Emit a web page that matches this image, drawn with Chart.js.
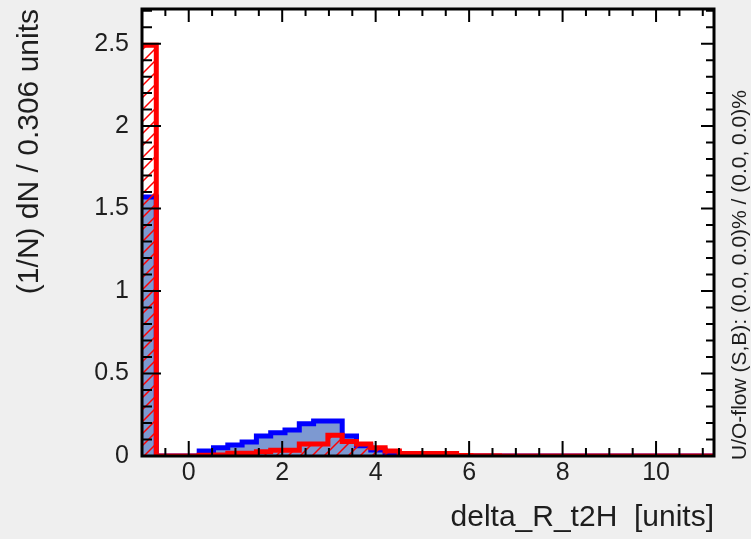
<!DOCTYPE html>
<html>
<head>
<meta charset="utf-8">
<script src="https://cdn.jsdelivr.net/npm/chart.js@4.4.1/dist/chart.umd.min.js"></script>
<style>
  body { margin: 0; background: #efefef; }
  canvas { display: block; }
</style>
</head>
<body>
<canvas id="deltaR" width="751" height="539"></canvas>
<script>
// binning of the histogram
const binStart = -1.0;
const binWidth = 0.306;

// (1/N) dN per bin
const signal = [1.57, 0, 0, 0, 0.03, 0.05, 0.067, 0.085, 0.121, 0.141,
                0.158, 0.195, 0.212, 0.212, 0.121, 0.062, 0.036, 0.014, 0.005, 0.002,
                0, 0, 0, 0, 0, 0, 0, 0, 0, 0,
                0, 0, 0, 0, 0, 0, 0, 0, 0, 0];
const background = [2.49, 0, 0, 0, 0.004, 0.006, 0.016, 0.017, 0.026, 0.035,
                    0.035, 0.072, 0.072, 0.126, 0.088, 0.072, 0.05, 0.031, 0.015, 0.015,
                    0.015, 0.015, 0.003, 0.002, 0.001, 0, 0, 0, 0, 0,
                    0, 0, 0, 0, 0, 0, 0, 0, 0, 0];

const xTitle = 'delta_R_t2H  [units]';
const yTitle = '(1/N) dN / 0.306 units';
const flowText = 'U/O-flow (S,B): (0.0, 0.0)% / (0.0, 0.0)%';
const yMax = 2.71;

const FONT = '"Liberation Sans", Arial, sans-serif';
const TEXT = '#1e1e1e';

// histogram outline: one point per lower bin edge, plus the last upper edge
function stepPoints(values) {
  const pts = values.map((v, i) => ({ x: binStart + i * binWidth, y: v }));
  pts.push({ x: binStart + values.length * binWidth, y: values[values.length - 1] });
  return pts;
}

function hatch(color) {
  const c = document.createElement('canvas');
  c.width = 12; c.height = 12;
  const g = c.getContext('2d');
  g.strokeStyle = color;
  g.lineWidth = 1.5;
  g.beginPath();
  g.moveTo(0, 12); g.lineTo(12, 0);
  g.moveTo(-3, 3); g.lineTo(3, -3);
  g.moveTo(9, 15); g.lineTo(15, 9);
  g.stroke();
  return g.createPattern(c, 'repeat');
}

function isMultiple(v, step) {
  return Math.abs(v / step - Math.round(v / step)) < 1e-6;
}

// ROOT-like frame: grey pad, white frame, ticks pointing inwards on all sides
const frame = {
  id: 'frame',
  beforeDraw(chart) {
    const { ctx, chartArea: a } = chart;
    ctx.save();
    ctx.fillStyle = '#efefef';
    ctx.fillRect(0, 0, chart.width, chart.height);
    ctx.fillStyle = '#ffffff';
    ctx.fillRect(a.left, a.top, a.right - a.left, a.bottom - a.top);
    ctx.restore();
  },
  afterDraw(chart) {
    const { ctx, chartArea: a, scales: { x, y } } = chart;
    ctx.save();
    ctx.strokeStyle = '#000';
    ctx.lineWidth = 2;
    ctx.beginPath();
    x.ticks.forEach(t => {
      if (t.value <= x.min + 1e-6 || t.value >= x.max - 1e-6) return;
      const px = x.getPixelForValue(t.value);
      const major = isMultiple(t.value, 2);
      ctx.moveTo(px, a.bottom); ctx.lineTo(px, a.bottom - (major ? 15 : 8));
      ctx.moveTo(px, a.top); ctx.lineTo(px, a.top + (major ? 13 : 7));
    });
    y.ticks.forEach(t => {
      if (t.value <= y.min + 1e-6 || t.value >= y.max - 1e-6) return;
      const py = y.getPixelForValue(t.value);
      const major = isMultiple(t.value, 0.5);
      ctx.moveTo(a.left, py); ctx.lineTo(a.left + (major ? 19 : 10), py);
      ctx.moveTo(a.right, py); ctx.lineTo(a.right - (major ? 13 : 8), py);
    });
    ctx.stroke();
    ctx.lineWidth = 3;
    ctx.strokeRect(a.left, a.top, a.right - a.left, a.bottom - a.top);

    ctx.translate(740, 460);
    ctx.rotate(-Math.PI / 2);
    ctx.font = '21px ' + FONT;
    ctx.fillStyle = TEXT;
    ctx.textAlign = 'left';
    ctx.textBaseline = 'middle';
    ctx.fillText(flowText, 0, 0);
    ctx.restore();
  }
};

const ctx = document.getElementById('deltaR').getContext('2d');
new Chart(ctx, {
  type: 'line',
  data: {
    datasets: [{
      label: 'Background',
      data: stepPoints(background),
      stepped: 'before',
      borderColor: '#ff0000',
      borderWidth: 5,
      borderJoinStyle: 'miter',
      backgroundColor: hatch('#ff0000'),
      fill: 'origin',
      pointRadius: 0,
      clip: 0
    }, {
      label: 'Signal',
      data: stepPoints(signal),
      stepped: 'before',
      borderColor: '#0000ff',
      borderWidth: 5,
      borderJoinStyle: 'miter',
      backgroundColor: '#7d99d1',
      fill: 'origin',
      pointRadius: 0,
      clip: 0
    }]
  },
  options: {
    responsive: false,
    animation: false,
    layout: { padding: { top: 9, right: 37, left: 0, bottom: 0 } },
    plugins: { legend: { display: false }, tooltip: { enabled: false } },
    scales: {
      x: {
        type: 'linear',
        min: binStart,
        max: binStart + signal.length * binWidth,
        grid: { display: false, drawTicks: false },
        border: { display: false },
        ticks: {
          stepSize: 0.5,
          includeBounds: false,
          autoSkip: false,
          maxRotation: 0,
          padding: 2,
          color: TEXT,
          font: { family: FONT, size: 25 },
          callback: v => isMultiple(v, 2) ? String(Math.round(v)) : ''
        },
        title: {
          display: true, text: xTitle, align: 'end', color: TEXT,
          font: { family: FONT, size: 30 }, padding: { top: 3, bottom: 3 }
        },
        afterFit: s => { s.height = 83; s.paddingLeft = 0; s.paddingRight = 0; }
      },
      y: {
        min: 0,
        max: yMax,
        grid: { display: false, drawTicks: false },
        border: { display: false },
        ticks: {
          stepSize: 0.1,
          includeBounds: false,
          autoSkip: false,
          padding: 13,
          color: TEXT,
          font: { family: FONT, size: 25 },
          callback: v => isMultiple(v, 0.5) ? String(Math.round(v * 10) / 10) : ''
        },
        title: {
          display: true, text: yTitle, align: 'end', color: TEXT,
          font: { family: FONT, size: 30 }, padding: { top: 12, bottom: 0 }
        },
        afterFit: s => { s.width = 142; s.paddingTop = 0; s.paddingBottom = 0; }
      }
    }
  },
  plugins: [frame]
});
</script>
</body>
</html>
